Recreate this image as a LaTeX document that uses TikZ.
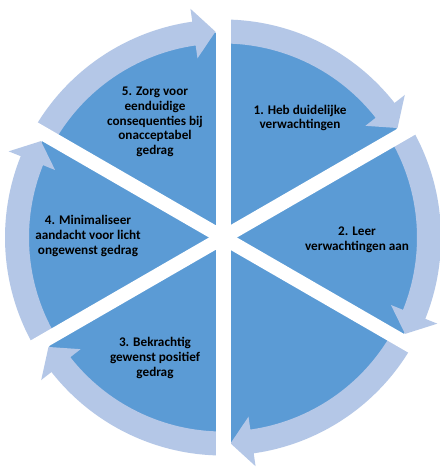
\documentclass[tikz,border=0pt]{standalone}
\usepackage{fontspec}
\setmainfont{Carlito}
\definecolor{pieblue}{HTML}{5B9BD5}
\definecolor{ringblue}{HTML}{B4C7E7}

\begin{document}
\begin{tikzpicture}[x=1pt,y=1pt,
        tx/.style={align=center, text=black, font=\bfseries\fontsize{13.2}{14.7}\selectfont},
        cyc/.style={fill=ringblue},
        gap/.style={fill=white}]
            \useasboundingbox[fill=white] (-223,-232.5) rectangle (216,237.5);
            % the disc
            \fill[pieblue] (0,0) circle (205);

            % ring of arrows, tail at a gap, tip at the next gap
            \fill[cyc] (90:218) arc[start angle=90, end angle=38.1, radius=218] -- (38.1:231) -- (32.1:206) -- (38.1:181) -- (38.1:194) arc[start angle=38.1, end angle=90, radius=194] -- cycle;
            \fill[cyc] (30:218) arc[start angle=30, end angle=-21.9, radius=218] -- (-21.9:231) -- (-27.9:206) -- (-21.9:181) -- (-21.9:194) arc[start angle=-21.9, end angle=30, radius=194] -- cycle;
            \fill[cyc] (-30:218) arc[start angle=-30, end angle=-81.9, radius=218] -- (-81.9:231) -- (-87.9:206) -- (-81.9:181) -- (-81.9:194) arc[start angle=-81.9, end angle=-30, radius=194] -- cycle;
            \fill[cyc] (-90:218) arc[start angle=-90, end angle=-141.9, radius=218] -- (-141.9:231) -- (-147.9:206) -- (-141.9:181) -- (-141.9:194) arc[start angle=-141.9, end angle=-90, radius=194] -- cycle;
            \fill[cyc] (210:218) arc[start angle=210, end angle=158.1, radius=218] -- (158.1:231) -- (152.1:206) -- (158.1:181) -- (158.1:194) arc[start angle=158.1, end angle=210, radius=194] -- cycle;
            \fill[cyc] (150:218) arc[start angle=150, end angle=98.1, radius=218] -- (98.1:231) -- (92.1:206) -- (98.1:181) -- (98.1:194) arc[start angle=98.1, end angle=150, radius=194] -- cycle;

            % white gaps between the parts
            \fill[gap, rotate=90] (-250,-7.5) rectangle (250,7.5);
            \fill[gap, rotate=30] (-250,-7) rectangle (250,7);
            \fill[gap, rotate=150] (-250,-7) rectangle (250,7);

            % texts
            \node[tx] (s1) at (77,119.5) {1. Heb duidelijke\\verwachtingen};
            \node[tx] (s2) at (134,-2.5) {2. Leer\\verwachtingen aan};
            \node[tx] (s3) at (-68,-120.5) {3. Bekrachtig\\gewenst positief\\gedrag};
            \node[tx] (s4) at (-135,1.5) {4. Minimaliseer\\aandacht voor licht\\ongewenst gedrag};
            \node[tx] (s5) at (-68,115.5) {5. Zorg voor\\eenduidige\\consequenties bij\\onacceptabel\\gedrag};
        \end{tikzpicture}
\end{document}
